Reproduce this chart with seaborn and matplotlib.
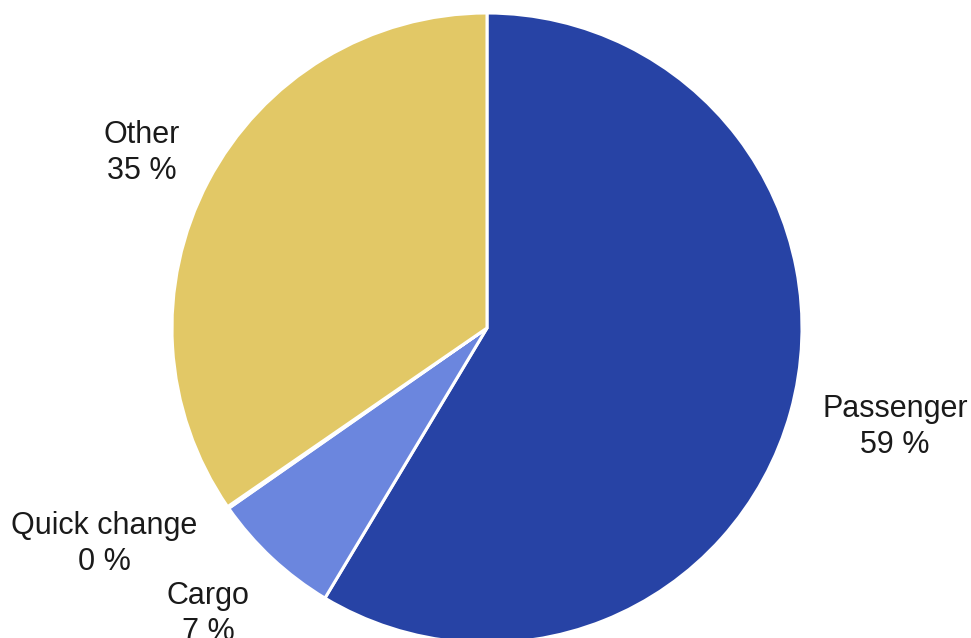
import matplotlib
matplotlib.use("Agg")
import matplotlib.pyplot as plt
import seaborn as sns

# Share of fleet by configuration
categories = ["Passenger", "Cargo", "Quick change", "Other"]
shares = [58.6, 6.7, 0.1, 34.6]
colors = ["#2743A5", "#6B86DE", "#C9D0EA", "#E2C866"]

# label anchor points (figure pixel coordinates, y up)
label_x = [895, 208, 104, 142]
label_y = [211, 24, 94, 485]

sns.set_theme(style="white")
plt.rcParams["font.family"] = ["Liberation Sans", "DejaVu Sans"]

W, H = 971, 638
fig = plt.figure(figsize=(W / 100, H / 100), dpi=100)
ax = fig.add_axes([0, 0, 1, 1])

ax.pie(
    shares,
    colors=colors,
    startangle=90,
    counterclock=False,
    center=(487, 310),
    radius=315,
    frame=True,
    wedgeprops=dict(edgecolor="white", linewidth=2.2),
)
ax.set_xlim(0, W)
ax.set_ylim(0, H)
ax.set_aspect("equal")
ax.axis("off")

for name, val, x, y in zip(categories, shares, label_x, label_y):
    ax.text(x, y, f"{name}\n{round(val):d} %", ha="center", va="center",
            fontsize=22, color="#1a1a1a", linespacing=1.25)

fig.savefig("out.png", dpi=100)
